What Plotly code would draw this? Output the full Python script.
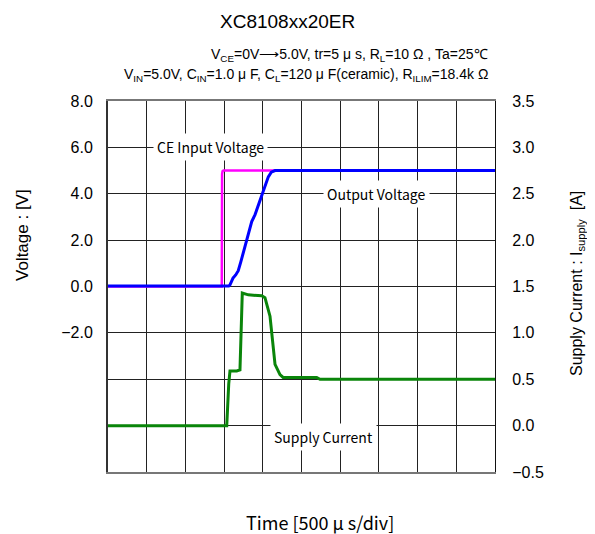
import plotly.graph_objects as go

# time in microseconds (500 us / div, 10 div)
ce_t = [0, 1470, 1474, 1480, 1492, 5000]
ce_v = [0.0, 0.0, 4.85, 4.97, 5.0, 5.0]

vout_t = [0, 1560, 1576, 1615, 1650, 1683, 1715, 1748, 1780, 1813, 1857, 1900, 1942, 1975, 2006, 2040, 2071, 2110, 2158, 5000]
vout_v = [0.02, 0.02, 0.07, 0.36, 0.5, 0.68, 1.05, 1.45, 1.8, 2.22, 2.8, 3.1, 3.52, 3.8, 4.16, 4.45, 4.73, 4.93, 5.0, 5.0]

isup_t = [0, 1534, 1560, 1576, 1663, 1705, 1735, 1792, 1813, 1986, 2028, 2093, 2136, 2158, 2222, 2262, 2696, 2739, 5000]
isup_a = [0.0, 0.0, 0.45, 0.59, 0.59, 0.60, 1.43, 1.42, 1.41, 1.40, 1.38, 1.18, 0.85, 0.66, 0.55, 0.52, 0.52, 0.50, 0.50]

y_ticks = [8, 6, 4, 2, 0, -2, -4, -6, -8]
y_labels = ["8.0", "6.0", "4.0", "2.0", "0.0", "\u22122.0", "", "", ""]
y2_ticks = [3.5, 3.0, 2.5, 2.0, 1.5, 1.0, 0.5, 0.0, -0.5]
y2_labels = ["3.5", "3.0", "2.5", "2.0", "1.5", "1.0", "0.5", "0.0", "\u22120.5"]

fig = go.Figure()
fig.add_trace(go.Scatter(x=ce_t, y=ce_v, mode="lines",
                         line=dict(color="#FF00FF", width=2.5), yaxis="y"))
fig.add_trace(go.Scatter(x=vout_t, y=vout_v, mode="lines",
                         line=dict(color="#0000FF", width=3), yaxis="y"))
fig.add_trace(go.Scatter(x=isup_t, y=isup_a, mode="lines",
                         line=dict(color="#0A850A", width=3), yaxis="y2"))

jp = "Noto Sans CJK JP"
ar = "Liberation Sans, Arial"

# page offset of the figure (body margin) is ~8px; plot area in page px: 108..495 x 101..472
def px(x):
    return (x - 108) / 387.0

def py(y):
    return (472 - y) / 371.0

fig.update_layout(
    width=595, height=534,
    margin=dict(l=100, r=108, t=93, b=70),
    paper_bgcolor="white", plot_bgcolor="white",
    showlegend=False,
    xaxis=dict(range=[0, 5000], tickvals=list(range(0, 5001, 500)), showticklabels=False,
               showgrid=True, gridcolor="#222", gridwidth=1, zeroline=False,
               showline=True, linecolor="#777", linewidth=2, mirror=True, ticks=""),
    yaxis=dict(range=[-8, 8], tickvals=y_ticks, ticktext=y_labels,
               showgrid=True, gridcolor="#222", gridwidth=1, zeroline=False,
               showline=True, linecolor="#333", linewidth=2, ticks="", ticklabelstandoff=10,
               tickfont=dict(family=ar, size=16, color="black")),
    yaxis2=dict(range=[-0.5, 3.5], tickvals=y2_ticks, ticktext=y2_labels,
                overlaying="y", side="right", showgrid=False, zeroline=False,
                showline=True, linecolor="#111", linewidth=1, ticks="", ticklabelstandoff=13,
                tickfont=dict(family=ar, size=16, color="black")),
    annotations=[
        dict(text="XC8108xx20ER", xref="paper", yref="paper", x=px(287), y=py(22),
             showarrow=False, font=dict(family=ar, size=19, color="black"), xanchor="center", yanchor="middle"),
        dict(text="V<sub>CE</sub>=0V\u27f65.0V, tr=5 \u03bc s, R<sub>L</sub>=10 \u03a9 , Ta=25\u2103",
             xref="paper", yref="paper", x=px(490), y=py(55),
             showarrow=False, font=dict(family=ar, size=14, color="black"), xanchor="right", yanchor="middle"),
        dict(text="V<sub>IN</sub>=5.0V, C<sub>IN</sub>=1.0 \u03bc F, C<sub>L</sub>=120 \u03bc F(ceramic), R<sub>ILIM</sub>=18.4k \u03a9",
             xref="paper", yref="paper", x=px(490), y=py(75),
             showarrow=False, font=dict(family=ar, size=14, color="black"), xanchor="right", yanchor="middle"),
        dict(text="Voltage : [V]", xref="paper", yref="paper", x=px(22), y=py(235), textangle=-90,
             showarrow=False, font=dict(family=ar, size=17, color="black"), xanchor="center", yanchor="middle"),
        dict(text="Supply Current : I<sub>supply</sub>  [A]", xref="paper", yref="paper", x=px(577), y=py(284),
             textangle=-90, showarrow=False, font=dict(family=ar, size=16, color="black"),
             xanchor="center", yanchor="middle"),
        dict(text="Time [500 \u03bc s/div]", xref="paper", yref="paper", x=px(320), y=py(522),
             showarrow=False, font=dict(family=jp, size=18, color="black"), xanchor="center", yanchor="middle"),
        dict(text="CE Input Voltage", x=1318, y=6.0, xref="x", yref="y", showarrow=False,
             font=dict(family=jp, size=14, color="black"), bgcolor="white", borderpad=3),
        dict(text="Output Voltage", x=3475, y=4.0, xref="x", yref="y", showarrow=False,
             font=dict(family=jp, size=14, color="black"), bgcolor="white", borderpad=3),
        dict(text="Supply Current", x=2778, y=-6.5, xref="x", yref="y", showarrow=False,
             font=dict(family=jp, size=14, color="black"), bgcolor="white", borderpad=3),
    ],
)

fig.write_html("out.html")
